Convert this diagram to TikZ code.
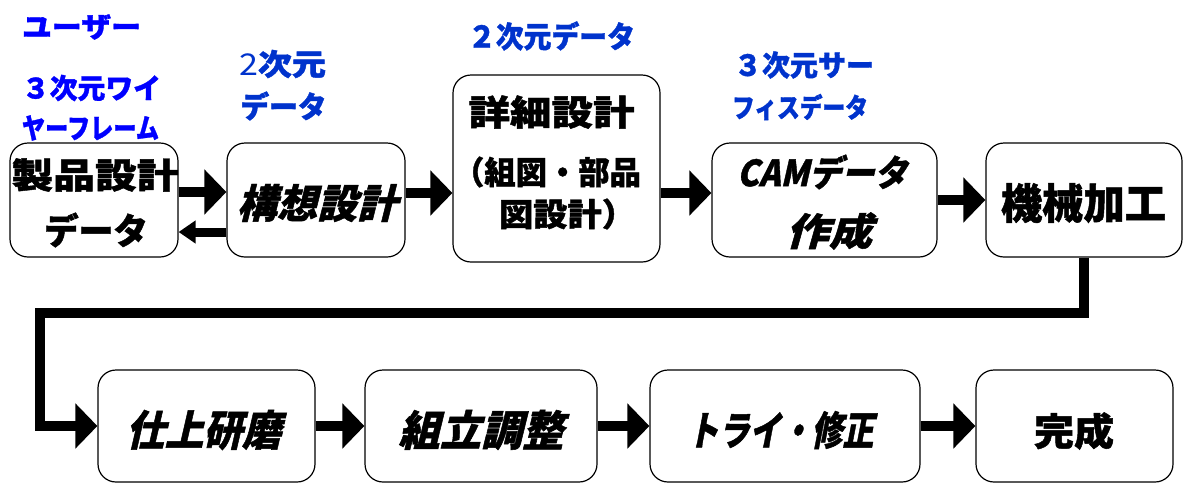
\documentclass[tikz,border=0pt]{standalone}
\usepackage{fontspec}
\usepackage{graphicx}
\usetikzlibrary{arrows.meta}
\newfontfamily\jp{Noto Sans CJK JP}[BoldFeatures={FakeBold=1.2}]
\newfontfamily\jpsl{Noto Sans CJK JP}[FakeSlant=0.25,BoldFeatures={FakeBold=1.2}]
\definecolor{ublue}{RGB}{0,0,255}
\definecolor{dblue}{RGB}{0,51,204}
\newcommand\fitw[2]{\resizebox{#1}{\height}{#2}}
\newcommand\fs[1]{\fontsize{#1}{#1}\selectfont}
\begin{document}
\begin{tikzpicture}[x=1pt,y=-1pt,
  box/.style={draw, line width=1.2pt, rounded corners=18pt, fill=white, inner sep=0pt},
  t/.style={inner sep=0pt, anchor=center},
  arr/.style={line width=10pt, line join=miter, -{Triangle[length=22pt,width=44pt]}},
  sarr/.style={line width=9pt, -{Triangle[length=17pt,width=22pt]}}]
\useasboundingbox (0,0) rectangle (1184,483);
% boxes
\node[box, minimum width=168pt, minimum height=114pt] (b1) at (94,200) {};
\node[box, minimum width=178pt, minimum height=114pt] (b2) at (316,200) {};
\node[box, minimum width=207pt, minimum height=187pt] (b3) at (556.5,168.5) {};
\node[box, minimum width=225pt, minimum height=114pt] (b4) at (824.5,200) {};
\node[box, minimum width=196pt, minimum height=114pt] (b5) at (1084,200) {};
\node[box, minimum width=217pt, minimum height=112pt] (b6) at (206.5,426) {};
\node[box, minimum width=232pt, minimum height=112pt] (b7) at (481,426) {};
\node[box, minimum width=270pt, minimum height=112pt] (b8) at (785,426) {};
\node[box, minimum width=197pt, minimum height=112pt] (b9) at (1074.5,426) {};
% connectors
\draw[arr] ([yshift=8pt]b1.east) -- ([yshift=8pt]b1.east -| b2.west);
\draw[sarr] ([yshift=-32pt]b2.west) -- ([yshift=-32pt]b2.west -| b1.east);
\draw[arr] ([yshift=7pt]b2.east) -- ([yshift=7pt]b2.east -| b3.west);
\draw[arr] ([yshift=7pt]b4.west -| b3.east) -- ([yshift=7pt]b4.west);
\draw[arr] (b4.east) -- (b5.west);
\coordinate (k1) at (40,313);
\draw[arr] (b5.south) |- (k1) |- (b6.west);
\draw[arr] (b6.east) -- (b7.west);
\draw[arr] (b7.east) -- (b8.west);
\draw[arr] (b8.east) -- (b9.west);
% blue labels
\node[t, text=ublue] (u1) at (81.5,27) {\jp\bfseries\fs{28}\fitw{119pt}{ユーザー}};
\node[t, text=ublue] (u2) at (91.5,88) {\jp\bfseries\fs{28}\fitw{139pt}{３次元ワイ}};
\node[t, text=ublue] (u3) at (90.5,128) {\jp\bfseries\fs{28}\fitw{137pt}{ヤーフレーム}};
\node[t, text=dblue] (d1) at (282.5,64) {\jp\fs{30}\fitw{87pt}{2{\bfseries 次元}}};
\node[t, text=dblue] (d2) at (283.5,106) {\jp\bfseries\fs{30}\fitw{86pt}{データ}};
\node[t, text=dblue] (d3) at (551.5,36) {\jp\bfseries\fs{30}\fitw{167pt}{２次元データ}};
\node[t, text=dblue] (d4) at (804,65) {\jp\bfseries\fs{29}\fitw{140pt}{３次元サー}};
\node[t, text=dblue] (d5) at (800,107) {\jp\bfseries\fs{27}\fitw{136pt}{フィスデータ}};
% box texts
\node[t] (t1a) at (95,175) {\jp\bfseries\fs{35}\fitw{167pt}{製品設計}};
\node[t] (t1b) at (96,230) {\jp\bfseries\fs{36}\fitw{104pt}{データ}};
\node[t] (t2) at (317,203) {\jpsl\bfseries\fs{40}\fitw{160pt}{構想設計}};
\node[t] (t3a) at (551.5,112) {\jp\bfseries\fs{35}\fitw{166pt}{詳細設計}};
\node[t] (t3b) at (547,172) {\jp\bfseries\fs{32}\fitw{188pt}{（組図・部品}};
\node[t] (t3c) at (567.5,214) {\jp\bfseries\fs{32}\fitw{137pt}{図設計）}};
\node[t] (t4a) at (822,172) {\jpsl\bfseries\fs{36}\fitw{170pt}{CAMデータ}};
\node[t] (t4b) at (829,231) {\jpsl\bfseries\fs{38}\fitw{86pt}{作成}};
\node[t] (t5) at (1083.5,203) {\jp\bfseries\fs{42}\fitw{165pt}{機械加工}};
\node[t] (t6) at (203.5,430) {\jpsl\bfseries\fs{42}\fitw{155pt}{仕上研磨}};
\node[t] (t7) at (481,430) {\jpsl\bfseries\fs{42}\fitw{165pt}{組立調整}};
\node[t] (t8) at (780.5,430) {\jpsl\bfseries\fs{40}\fitw{186pt}{トライ・修正}};
\node[t] (t9) at (1074,431) {\jp\bfseries\fs{38}\fitw{80pt}{完成}};
\end{tikzpicture}
\end{document}
